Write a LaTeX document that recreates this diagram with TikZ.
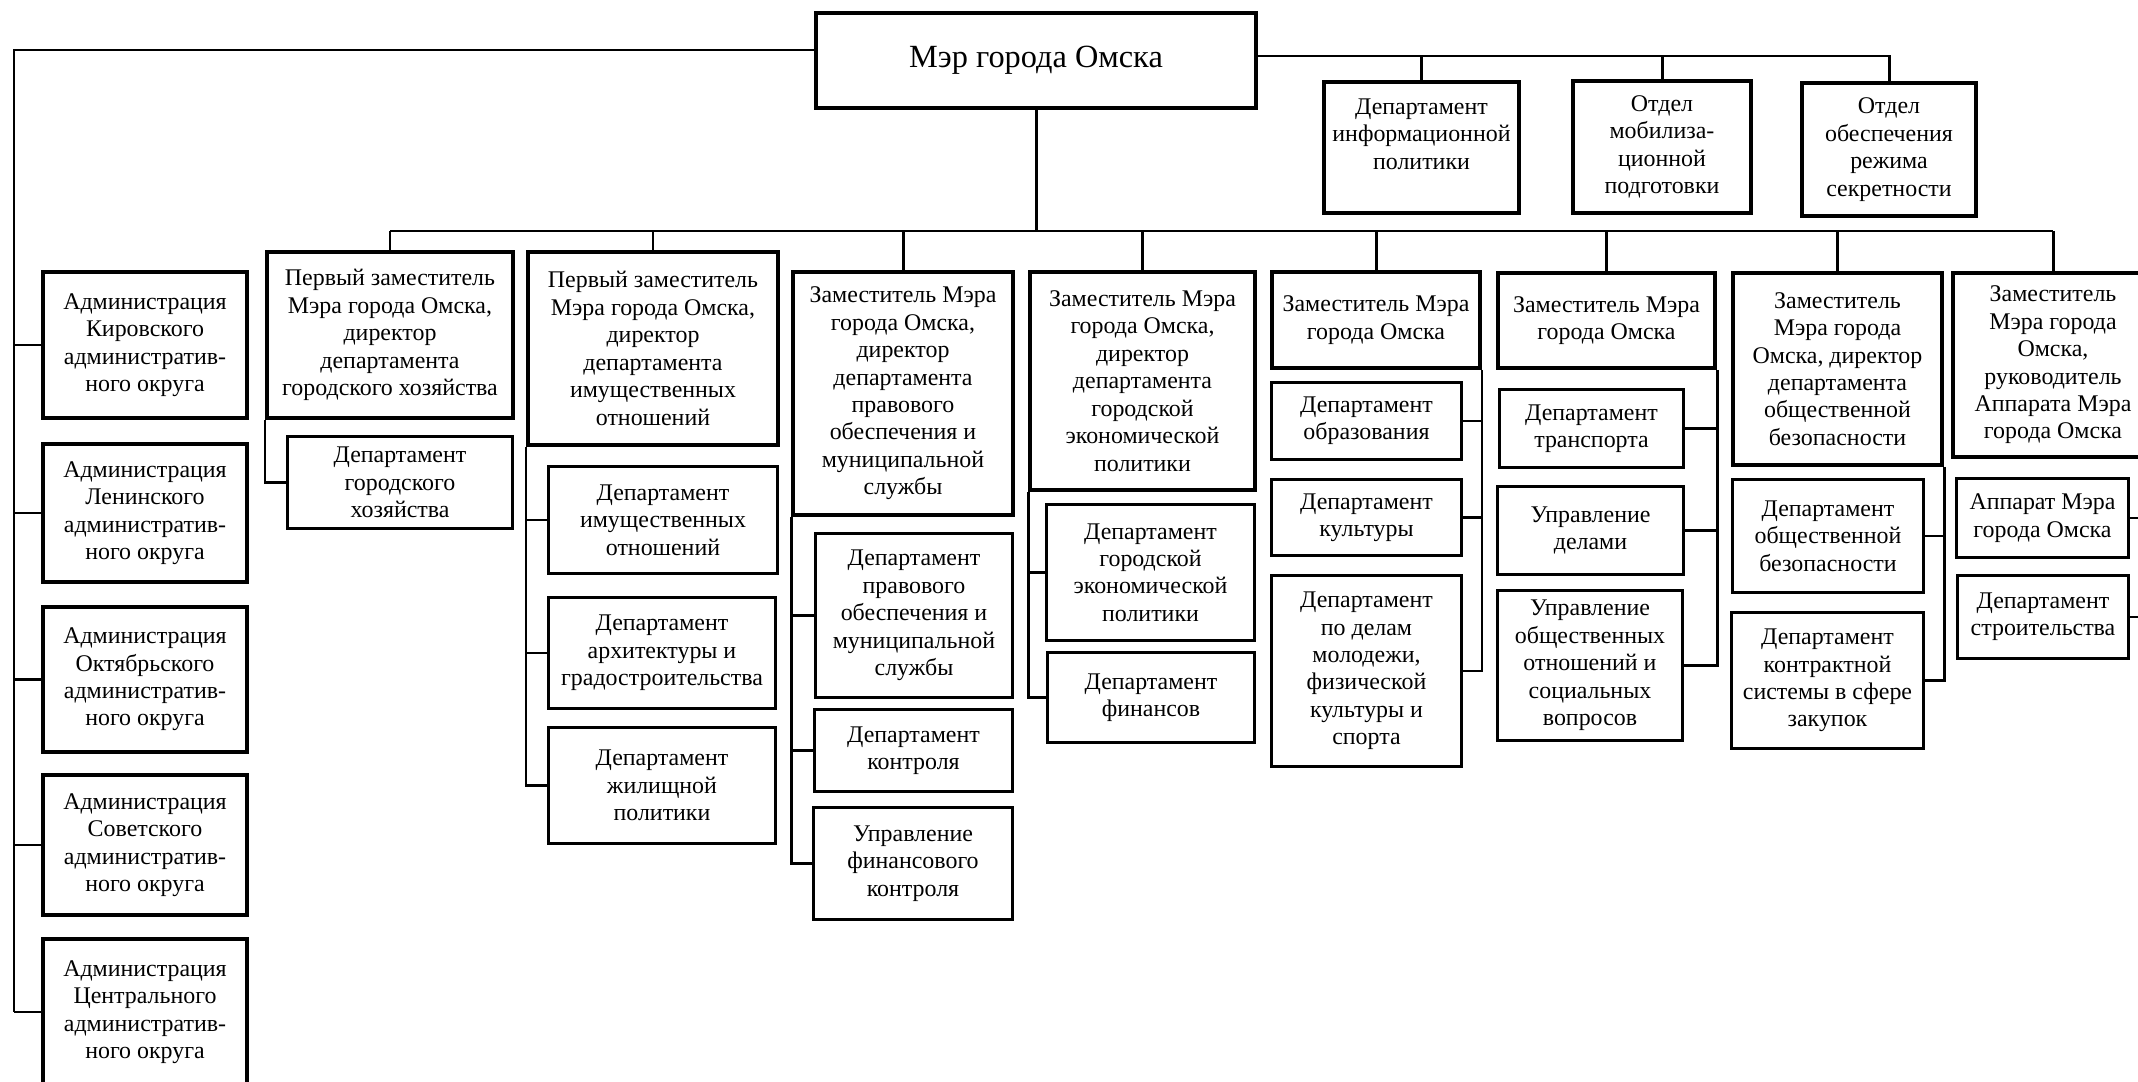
\documentclass[tikz,border=0pt]{standalone}
\usepackage{fontspec}
\setmainfont{Liberation Serif}

\begin{document}
\begin{tikzpicture}[
        x=0.01cm, y=-0.01cm,
        head/.style={rectangle, draw, line width=1.1pt, align=center, inner sep=1pt, font=\fontsize{6.8}{7.8}\selectfont},
        dept/.style={rectangle, draw, line width=0.85pt, align=center, inner sep=1pt, font=\fontsize{6.8}{7.8}\selectfont},
        link/.style={line width=0.85pt}
    ]
        \useasboundingbox (0,0) rectangle (2138,1082);

        % Mayor
        \node[head, minimum width=4.40cm, minimum height=0.95cm, font=\fontsize{9.2}{11}\selectfont] (mayor) at (1036,60.5) {Мэр города Омска};

        % Units under the mayor
        \node[head, minimum width=1.95cm, minimum height=1.31cm] (info) at (1421.5,147.5) {Департамент\\информационной\\политики\\\mbox{}};
        \node[head, minimum width=1.78cm, minimum height=1.32cm] (mob) at (1662,147) {Отдел\\мобилиза-\\ционной\\подготовки};
        \node[head, minimum width=1.74cm, minimum height=1.33cm] (secret) at (1889,149.5) {Отдел\\обеспечения\\режима\\секретности};

        % District administrations
        \node[head, minimum width=2.04cm, minimum height=1.46cm] (kirov) at (145,345) {Администрация\\Кировского\\административ-\\ного округа};
        \node[head, minimum width=2.04cm, minimum height=1.38cm] (lenin) at (145,513) {Администрация\\Ленинского\\административ-\\ного округа};
        \node[head, minimum width=2.04cm, minimum height=1.45cm] (oktyabr) at (145,679.5) {Администрация\\Октябрьского\\административ-\\ного округа};
        \node[head, minimum width=2.04cm, minimum height=1.40cm] (sovet) at (145,845) {Администрация\\Советского\\административ-\\ного округа};
        \node[head, minimum width=2.04cm, minimum height=1.46cm] (central) at (145,1012) {Администрация\\Центрального\\административ-\\ного округа};

        % Deputies
        \node[head, minimum width=2.46cm, minimum height=1.66cm] (h1) at (390,335) {Первый заместитель\\Мэра города Омска,\\директор\\департамента\\городского хозяйства};
        \node[head, minimum width=2.50cm, minimum height=1.93cm] (h2) at (653,348.5) {Первый заместитель\\Мэра города Омска,\\директор\\департамента\\имущественных\\отношений};
        \node[head, minimum width=2.20cm, minimum height=2.43cm] (h3) at (903,393.5) {Заместитель Мэра\\города Омска,\\директор\\департамента\\правового\\обеспечения и\\муниципальной\\службы};
        \node[head, minimum width=2.25cm, minimum height=2.18cm] (h4) at (1142.5,381) {Заместитель Мэра\\города Омска,\\директор\\департамента\\городской\\экономической\\политики};
        \node[head, minimum width=2.08cm, minimum height=0.96cm] (h5) at (1376,320) {Заместитель Мэра\\города Омска};
        \node[head, minimum width=2.17cm, minimum height=0.95cm] (h6) at (1606.5,320.5) {Заместитель Мэра\\города Омска};
        \node[head, minimum width=2.09cm, minimum height=1.92cm] (h7) at (1837.5,369) {Заместитель\\Мэра города\\Омска, директор\\департамента\\общественной\\безопасности};
        \node[head, minimum width=2.00cm, minimum height=1.84cm] (h8) at (2053,365) {Заместитель\\Мэра города\\Омска,\\руководитель\\Аппарата Мэра\\города Омска};

        % Departments
        \node[dept, minimum width=2.24cm, minimum height=0.91cm] (gh) at (400,482.5) {Департамент\\городского\\хозяйства};

        \node[dept, minimum width=2.28cm, minimum height=1.06cm] (im) at (663,520) {Департамент\\имущественных\\отношений};
        \node[dept, minimum width=2.26cm, minimum height=1.10cm] (arch) at (662,653) {Департамент\\архитектуры и\\градостроительства};
        \node[dept, minimum width=2.26cm, minimum height=1.15cm] (house) at (662,785.5) {Департамент\\жилищной\\политики};

        \node[dept, minimum width=1.96cm, minimum height=1.63cm] (legal) at (914,615.5) {Департамент\\правового\\обеспечения и\\муниципальной\\службы};
        \node[dept, minimum width=1.97cm, minimum height=0.81cm] (control) at (913.5,750.5) {Департамент\\контроля};
        \node[dept, minimum width=1.98cm, minimum height=1.11cm] (fincontrol) at (913,863.5) {Управление\\финансового\\контроля};

        \node[dept, minimum width=2.07cm, minimum height=1.35cm] (econ) at (1150.5,572.5) {Департамент\\городской\\экономической\\политики};
        \node[dept, minimum width=2.06cm, minimum height=0.89cm] (fin) at (1151,697.5) {Департамент\\финансов};

        \node[dept, minimum width=1.89cm, minimum height=0.76cm] (edu) at (1366.5,421) {Департамент\\образования};
        \node[dept, minimum width=1.89cm, minimum height=0.75cm] (cult) at (1366.5,517.5) {Департамент\\культуры};
        \node[dept, minimum width=1.89cm, minimum height=1.90cm] (youth) at (1366.5,671) {Департамент\\по делам\\молодежи,\\физической\\культуры и\\спорта};

        \node[dept, minimum width=1.83cm, minimum height=0.77cm] (transp) at (1591.5,428.5) {Департамент\\транспорта};
        \node[dept, minimum width=1.85cm, minimum height=0.87cm] (affairs) at (1590.5,530.5) {Управление\\делами};
        \node[dept, minimum width=1.84cm, minimum height=1.49cm] (social) at (1590,665.5) {Управление\\общественных\\отношений и\\социальных\\вопросов};

        \node[dept, minimum width=1.90cm, minimum height=1.12cm] (safety) at (1828,536) {Департамент\\общественной\\безопасности};
        \node[dept, minimum width=1.91cm, minimum height=1.35cm] (contract) at (1827.5,680.5) {Департамент\\контрактной\\системы в сфере\\закупок};

        \node[dept, minimum width=1.71cm, minimum height=0.78cm] (apparat) at (2042.5,518) {Аппарат Мэра\\города Омска};
        \node[dept, minimum width=1.70cm, minimum height=0.82cm] (stroit) at (2043,617) {Департамент\\строительства};

        % Mayor to districts
        \coordinate (lbus) at (14,50);
        \draw[link] (mayor.west |- lbus) -- (lbus) -- (lbus |- central.west);
        \foreach \n in {kirov, lenin, oktyabr, sovet, central}
            \draw[link] (lbus |- \n.west) -- (\n.west);

        % Mayor to units
        \coordinate (rbus) at (0,56);
        \draw[link] (mayor.east |- rbus) -| (secret.north);
        \draw[link] (info.north |- rbus) -- (info.north);
        \draw[link] (mob.north |- rbus) -- (mob.north);

        % Mayor to deputies
        \coordinate (bus) at (0,231);
        \draw[link] (mayor.south) -- (mayor.south |- bus);
        \draw[link] (h1.north |- bus) -- (h8.north |- bus);
        \foreach \n in {h1, h2, h3, h4, h5, h6, h7, h8}
            \draw[link] (\n.north |- bus) -- (\n.north);

        % Deputies to departments (left side)
        \draw[link] (h1.south west) |- (gh.west);
        \draw[link] (h2.south west) |- (house.west);
        \draw[link] (h2.south west |- im.west) -- (im.west);
        \draw[link] (h2.south west |- arch.west) -- (arch.west);
        \draw[link] (h3.south west) |- (fincontrol.west);
        \draw[link] (h3.south west |- legal.west) -- (legal.west);
        \draw[link] (h3.south west |- control.west) -- (control.west);
        \draw[link] (h4.south west) |- (fin.west);
        \draw[link] (h4.south west |- econ.west) -- (econ.west);

        % Deputies to departments (right side)
        \draw[link] (h5.south east) |- (youth.east);
        \draw[link] (h5.south east |- edu.east) -- (edu.east);
        \draw[link] (h5.south east |- cult.east) -- (cult.east);
        \draw[link] (h6.south east) |- (social.east);
        \draw[link] (h6.south east |- transp.east) -- (transp.east);
        \draw[link] (h6.south east |- affairs.east) -- (affairs.east);
        \draw[link] (h7.south east) |- (contract.east);
        \draw[link] (h7.south east |- safety.east) -- (safety.east);
        \draw[link] (h8.south east) |- (stroit.east);
        \draw[link] (h8.south east |- apparat.east) -- (apparat.east);
    \end{tikzpicture}
\end{document}
